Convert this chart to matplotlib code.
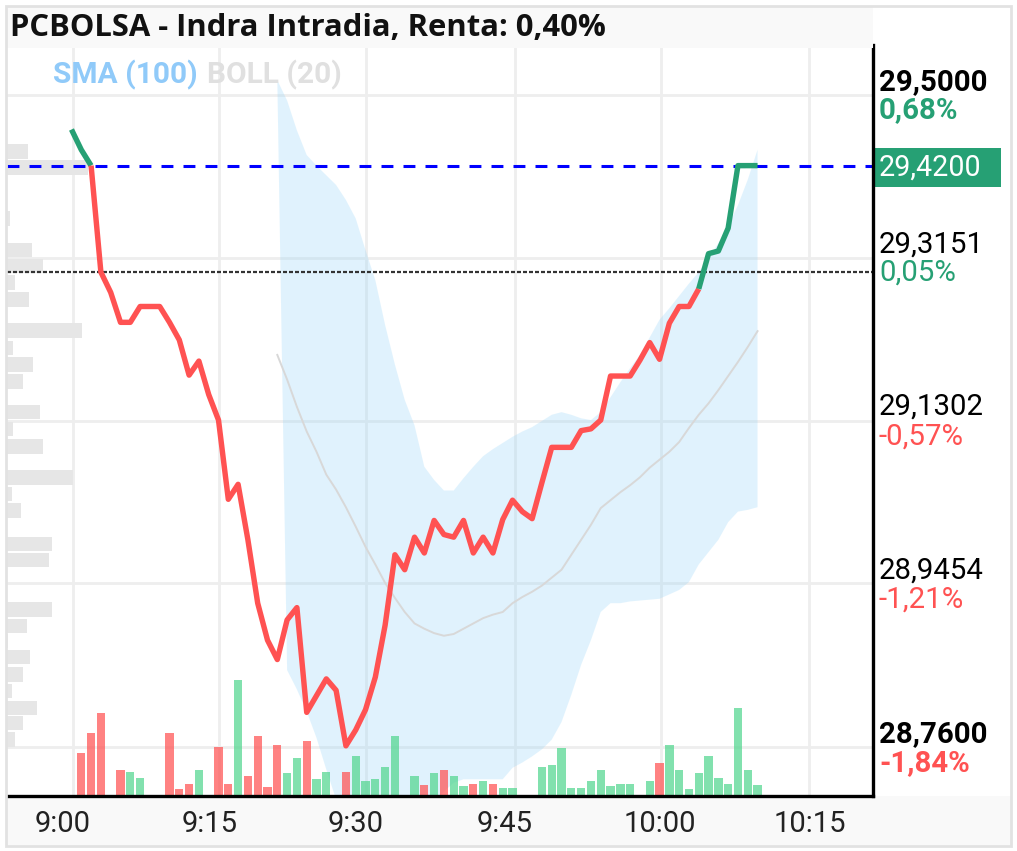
"""PCBOLSA Indra intraday chart: price line, Bollinger band, SMA, volume and price profile."""
import numpy as np
import matplotlib; matplotlib.use("Agg")
import matplotlib.pyplot as plt
from matplotlib.patches import Rectangle

RED = "#ff5252"; GREEN = "#26a074"; GRID = "#eeeeee"

# one close per minute from 9:00
price = [29.461,29.438,29.42,29.299,29.276,29.242,29.242,29.26,29.26,29.26,29.242,29.222,29.182,29.198,29.16,
         29.131,29.041,29.058,28.995,28.923,28.881,28.859,28.904,28.918,28.799,28.818,28.837,28.824,28.761,28.779,
         28.802,28.839,28.898,28.978,28.961,28.998,28.98,29.017,29.001,28.998,29.017,28.98,28.998,28.98,29.018,
         29.04,29.027,29.019,29.06,29.10,29.10,29.10,29.119,29.121,29.131,29.181,29.181,29.181,29.199,29.219,
         29.20,29.241,29.26,29.26,29.28,29.32,29.323,29.349,29.42,29.42,29.42]
boll_upper = [29.517,29.494,29.46,29.432,29.42,29.409,29.398,29.381,29.36,29.324,29.29,29.239,29.194,29.154,29.125,
              29.078,29.063,29.051,29.051,29.065,29.078,29.09,29.098,29.105,29.112,29.118,29.123,29.13,29.137,29.14,
              29.137,29.133,29.131,29.14,29.157,29.174,29.19,29.205,29.225,29.245,29.258,29.272,29.286,29.299,29.315,
              29.332,29.352,29.375,29.404,29.438]
boll_lower = [28.847,28.825,28.80,28.77,28.734,28.70,28.683,28.671,28.666,28.666,28.666,28.671,28.677,28.683,28.691,
              28.698,28.709,28.719,28.723,28.723,28.723,28.723,28.723,28.736,28.742,28.749,28.757,28.768,28.788,28.819,
              28.853,28.881,28.913,28.923,28.923,28.925,28.926,28.927,28.928,28.933,28.938,28.947,28.967,28.981,28.995,
              29.015,29.027,29.029,29.032]
sma = [29.205,29.177,29.146,29.118,29.095,29.069,29.052,29.032,29.01,28.987,28.967,28.946,28.929,28.913,28.90,
       28.894,28.889,28.886,28.888,28.894,28.90,28.906,28.91,28.913,28.923,28.93,28.936,28.943,28.952,28.961,
       28.978,28.995,29.012,29.031,29.04,29.049,29.057,29.066,29.077,29.086,29.095,29.106,29.122,29.137,29.15,
       29.165,29.181,29.197,29.214,29.232]

vol_min = [1,2,3,5,6,7,10,11,12,13,15,16,17,18,19,20,21,22,23,24,25,26,28,29,30,31,32,33,35,36,37,38,39,40,41,42,
           43,44,45,48,49,50,51,52,53,54,55,56,57,59,60,61,62,63,64,65,66,67,68,69,70]
vol = [43,63,83,26,24,18,63,7,12,26,49,12,116,20,60,9,51,23,38,55,17,24,24,40,15,17,29,60,20,11,23,26,20,10,12,15,
       12,8,8,29,31,48,8,8,15,26,10,12,12,15,33,51,26,7,23,40,18,12,88,26,11]
vol_down = [1,2,3,5,10,11,12,15,16,18,19,20,21,24,28,36,38,41,43,60]

prof_price = [29.436,29.418,29.36,29.324,29.306,29.287,29.268,29.233,29.213,29.194,29.175,29.14,29.121,29.101,
              29.066,29.047,29.028,28.99,28.972,28.916,28.897,28.88,28.862,28.842,28.823,28.804,28.787,28.768]
prof_vol = [21,81,3,25,36,8,22,75,6,26,16,33,6,36,66,5,14,45,42,45,20,1,23,16,5,30,16,8]

last_price = 29.42; prev_close = 29.299
tick_min = [0.15,15.1,30,45.3,60.1,75.3]
tick_lab_min = [-0.87,14.1,29.0,44.2,60.0,75.3]
tick_labels = ["9:00","9:15","9:30","9:45","10:00","10:15"]
grid_prices = [29.5,29.3151,29.1302,28.9454,28.76]
price_labels = ["29,5000","29,3151","29,1302","28,9454","28,7600"]
pct_labels = ["0,68%","0,05%","-0,57%","-1,21%","-1,84%"]

W, H = 1017, 851
XMIN, XMAX = -6.58, 81.78
YMIN, YMAX = 28.704, 29.557
plt.rcParams["font.family"] = ["Roboto", "DejaVu Sans"]

fig = plt.figure(figsize=(W/100, H/100), dpi=100, facecolor="white")
ax = fig.add_axes([7/W, (H-796)/H, 866/W, (796-45)/H])
ax.set_xlim(XMIN, XMAX); ax.set_ylim(YMIN, YMAX)

# backgrounds and outer frame
fig.add_artist(Rectangle((7/W, (H-845)/H), 1004/W, 49/H, transform=fig.transFigure, fc="#f9f9f9", ec="none", zorder=-1))
fig.add_artist(Rectangle((7/W, (H-48)/H), 866/W, 41/H, transform=fig.transFigure, fc="#f9f9f9", ec="none", zorder=5))
fig.add_artist(Rectangle((6/W, (H-846)/H), 1005/W, 840/H, transform=fig.transFigure, fc="none", ec="#e2e2e2", lw=2, zorder=6))
ax.patch.set_alpha(0)

ax.set_xticks(tick_min); ax.set_yticks(grid_prices)
ax.set_xticklabels([]); ax.set_yticklabels([])
ax.tick_params(length=0)
ax.grid(True, color=GRID, lw=2); ax.set_axisbelow(True)
for s in ("left", "top"): ax.spines[s].set_visible(False)
for s in ("right", "bottom"):
    ax.spines[s].set_linewidth(2.4); ax.spines[s].set_color("black"); ax.spines[s].set_zorder(8)

# bollinger band and sma
upper_x = np.arange(21, 71); lower_x = np.arange(22, 71)
ax.fill(np.r_[upper_x, lower_x[::-1]], np.r_[boll_upper, boll_lower[::-1]], color="#90d2f9", alpha=0.27, lw=0, zorder=1)
ax.plot(upper_x, sma, color="#d8d8d8", lw=1.4, zorder=2)

# price profile and volume, both scaled into the price axes
px_x = (XMAX-XMIN)/866; px_y = (YMAX-YMIN)/751
ax.barh(prof_price, np.array(prof_vol)*px_x, height=0.0165, left=XMIN, color="#e6e6e6", lw=0, zorder=2)
vol_colors = [RED if m in vol_down else "#52d68f" for m in vol_min]
ax.bar(vol_min, np.array(vol)*px_y, width=0.85, bottom=YMIN, color=vol_colors, alpha=0.72, lw=0, zorder=3)

ax.axhline(last_price, color="#0000ff", lw=2.2, dashes=(3.9, 3.3), zorder=4)
ax.axhline(prev_close, color="#333333", lw=1.6, dashes=(1.8, 0.9), zorder=4)

mins = np.arange(len(price))
for a, b, c in [(0, 3, GREEN), (2, 65, RED), (64, 71, GREEN)]:
    ax.plot(mins[a:b], price[a:b], color=c, lw=3.9, solid_joinstyle="round", solid_capstyle="butt", zorder=5)

# labels
ax.text(0.0535, 0.96, "SMA (100)", transform=ax.transAxes, color="#90caf9", fontsize=21.5, fontweight="bold", va="center", zorder=6)
ax.text(0.231, 0.96, "BOLL (20)", transform=ax.transAxes, color="#e0e0e0", fontsize=21.5, fontweight="bold", va="center", zorder=6)
fig.text(10/W, 1-28/H, "PCBOLSA - Indra Intradia, Renta: 0,40%", family=["Open Sans"], fontsize=22.3, fontweight="bold", va="center", color="#111111", zorder=7)

for x, lab in zip(tick_lab_min, tick_labels):
    ax.text(x, -0.0375, lab, transform=ax.get_xaxis_transform(), fontsize=21, ha="center", va="center", color="#222222")

pct_colors = [GREEN, GREEN, RED, RED, RED]
lab_dy = [13, 13, 14, 13, 13]; pct_dy = [15, 15, 16, 16, 16]
for i, (p, lab, pct) in enumerate(zip(grid_prices, price_labels, pct_labels)):
    w = "bold" if i in (0, 4) else "normal"
    trans = ax.get_yaxis_transform()
    ax.annotate(lab, (1, p), xycoords=trans, xytext=(4.3, lab_dy[i]*0.72), textcoords="offset points", fontsize=21.2,
                fontweight=w, va="center", annotation_clip=False, color="black")
    ax.annotate(pct, (1, p), xycoords=trans, xytext=(4.3, -pct_dy[i]*0.72), textcoords="offset points", fontsize=21.2,
                fontweight=w, va="center", annotation_clip=False, color=pct_colors[i])

ax.annotate("29,4200", (1, last_price), xycoords=ax.get_yaxis_transform(), xytext=(4.3, -1.5), textcoords="offset points",
            fontsize=20.6, va="center", color="white", annotation_clip=False, zorder=10)
fig.add_artist(Rectangle((873/W, (H-187)/H), 128/W, 39/H, transform=fig.transFigure, fc=GREEN, ec="none", zorder=-0.5))

fig.savefig("out.png", dpi=100)
